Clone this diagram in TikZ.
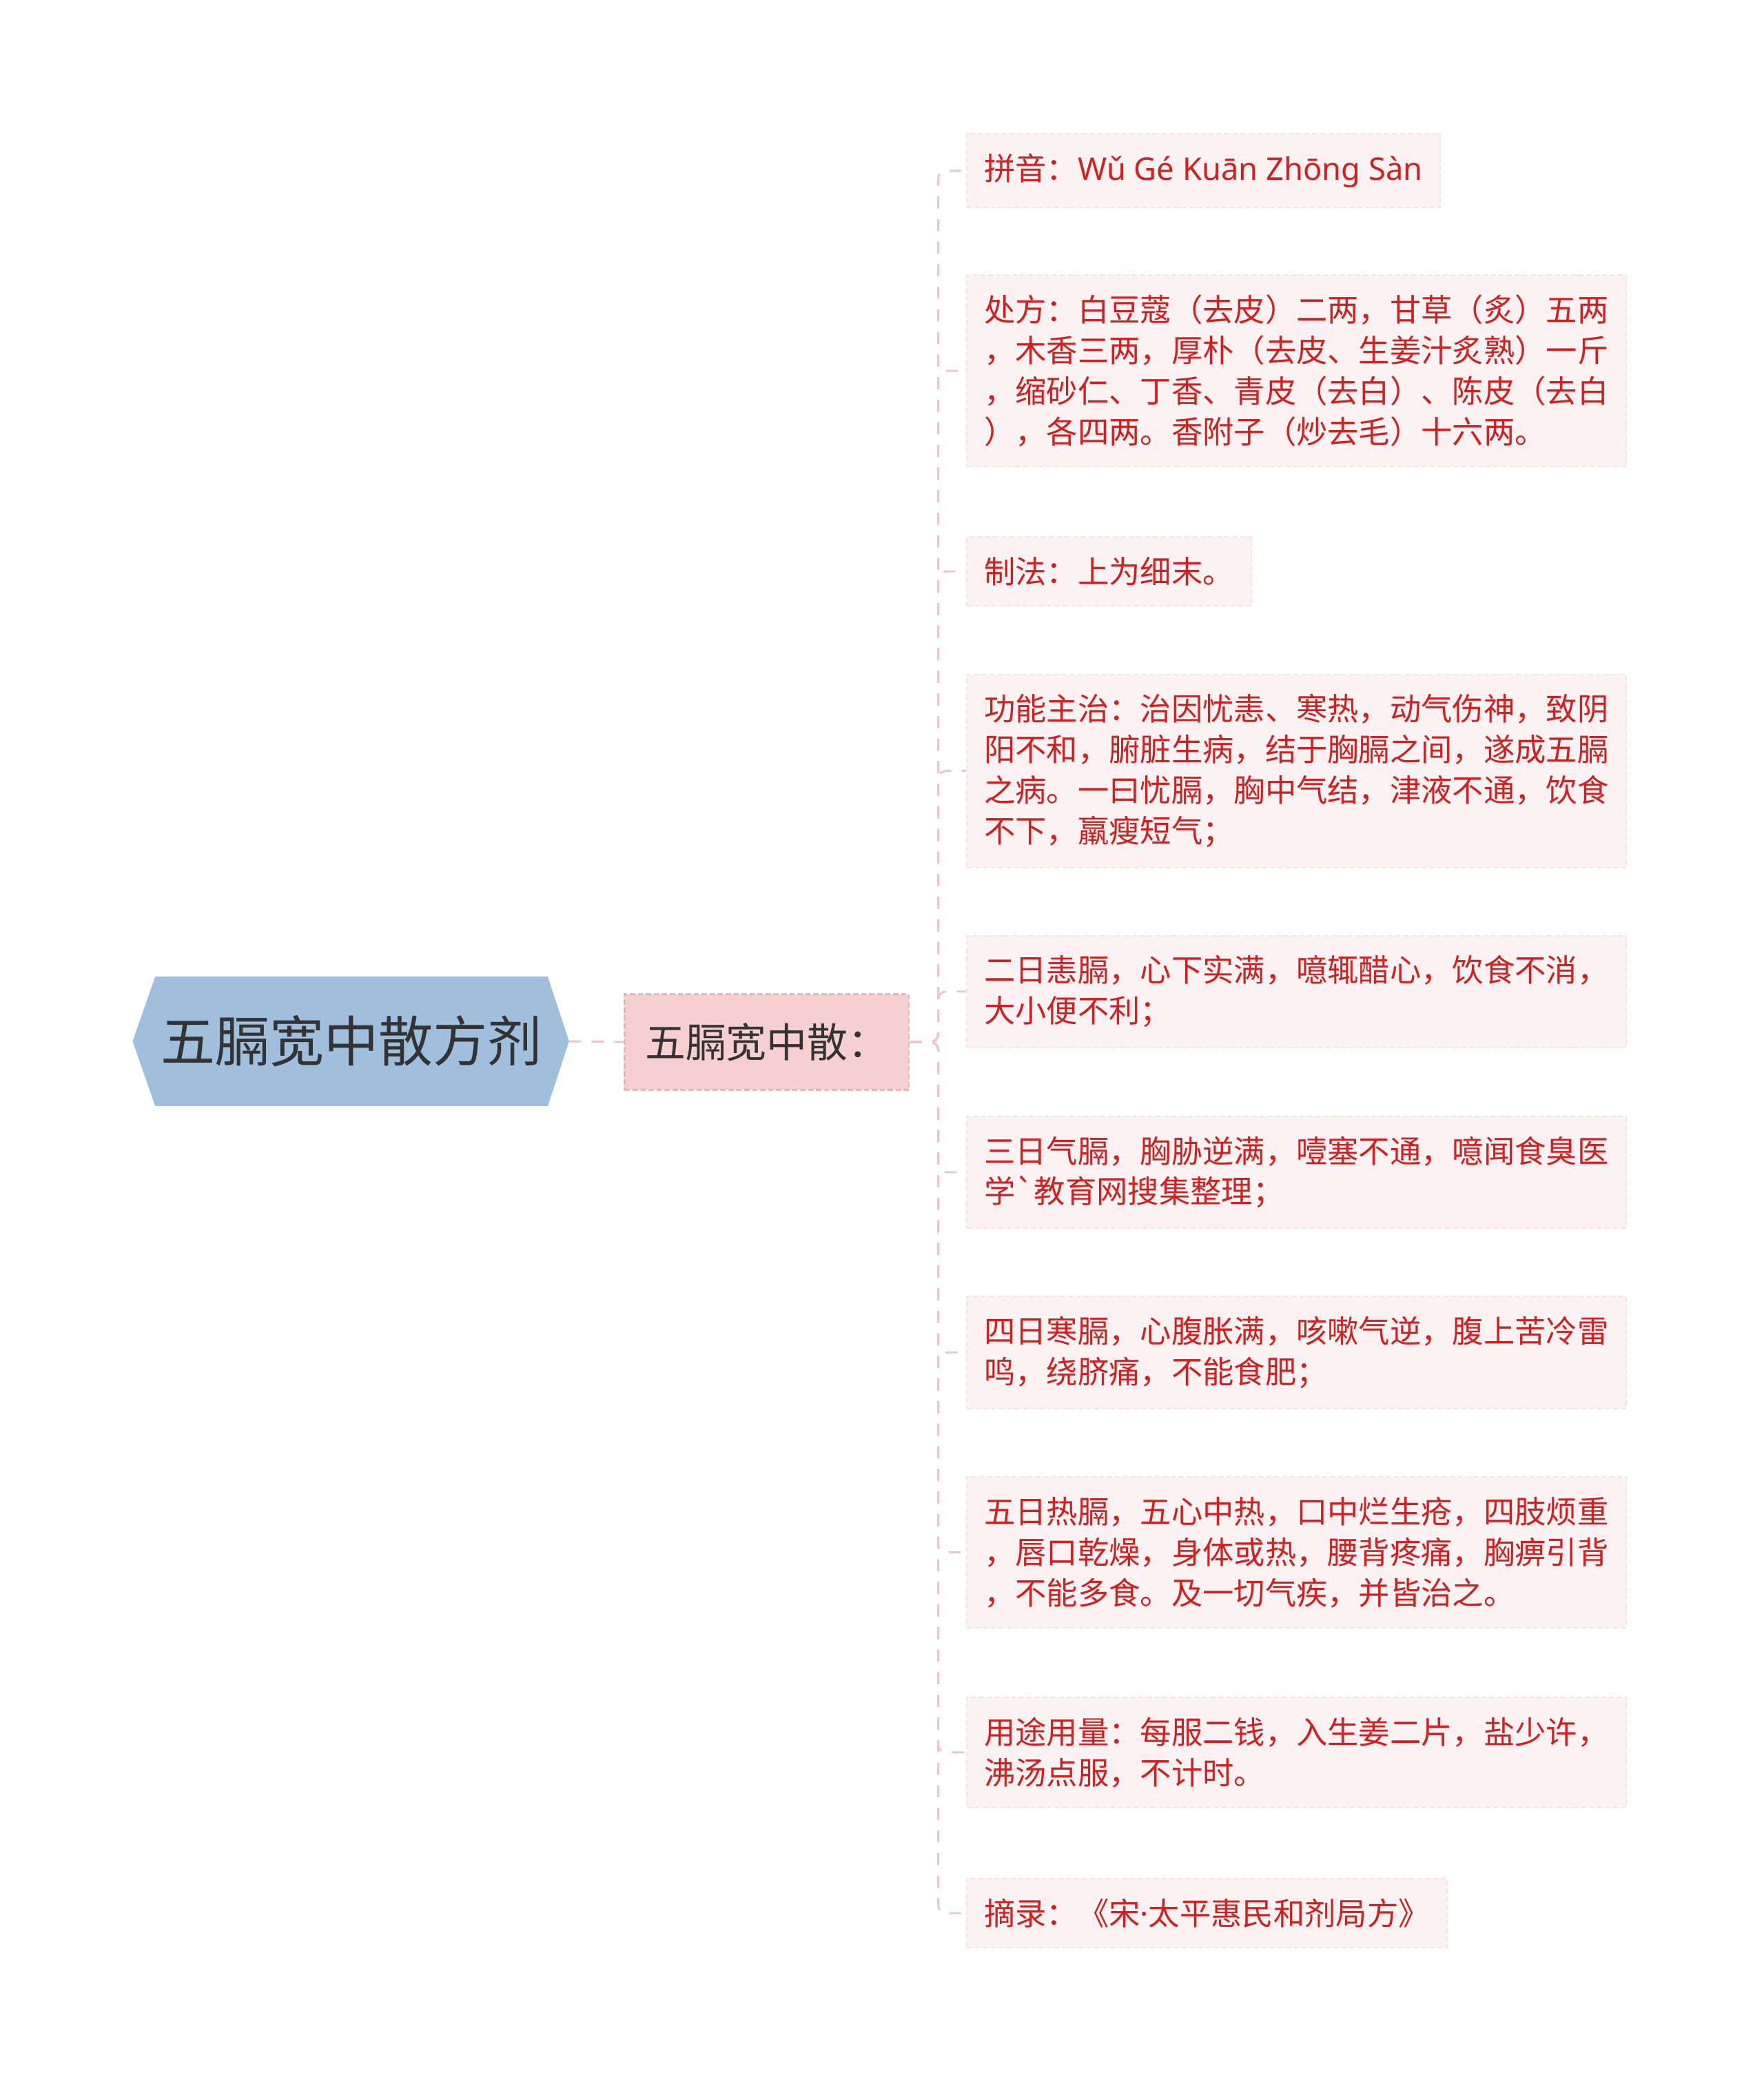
\documentclass[tikz,border=0pt]{standalone}
\usepackage{fontspec}
\setmainfont{Noto Sans CJK SC}[Ligatures=TeXOff]
\newfontfamily\latinfont{Noto Sans}[Ligatures=TeXOff]
\usepackage{xcolor}
\usetikzlibrary{positioning,backgrounds,calc}

\definecolor{rootblue}{HTML}{A0BFDC}
\definecolor{darktext}{HTML}{333333}
\definecolor{midpink}{HTML}{F6CFD1}
\definecolor{midedge}{HTML}{EBB5B8}
\definecolor{leafpink}{HTML}{FCF2F3}
\definecolor{leafedge}{HTML}{F6E3E5}
\definecolor{leafred}{HTML}{D0201F}
\definecolor{linkpink}{HTML}{EFC6C8}

\tikzset{
  rootnode/.style={inner sep=0pt, minimum width=295pt, minimum height=97pt,
    text=darktext, font=\fontsize{41}{48}\selectfont},
  midnode/.style={fill=midpink, draw=midedge, dash pattern=on 4pt off 2pt, line width=1.2pt,
    minimum width=214pt, minimum height=72pt, inner sep=0pt,
    text=darktext, font=\fontsize{30.5}{36}\selectfont},
  leaf/.style={anchor=west, fill=leafpink, draw=leafedge, dash pattern=on 4pt off 2pt, line width=1pt,
    inner xsep=13pt, inner ysep=15pt, align=left,
    text=leafred, font=\fontsize{23.5}{30.5}\selectfont},
  link/.style={draw=linkpink, line width=1.5pt, dash pattern=on 9pt off 8pt, rounded corners=6pt}
}

\begin{document}
\begin{tikzpicture}[x=1pt, y=-1pt]
  \useasboundingbox (0,0) rectangle (1327,1568);

  % Root
  \node[rootnode] (root) at (264.5,783.5) {五膈宽中散方剂};
  \begin{scope}[on background layer]
    \fill[rootblue] (root.north west) -- (root.north east) -- ([xshift=16pt]root.east)
      -- (root.south east) -- (root.south west) -- ([xshift=-17pt]root.west) -- cycle;
  \end{scope}
  \coordinate (tip) at ([xshift=16pt]root.east);

  % Middle
  \node[midnode] (mid) at (577,784) {五膈宽中散：};
  \coordinate (trunk) at (706,784);

  % Leaves
  \node[leaf] (pinyin) at (727,128.5) {拼音：{\latinfont Wǔ Gé Kuān Zhōng Sàn}};
  \node[leaf] (recipe) at (727,279) {处方：白豆蔻（去皮）二两，甘草（炙）五两\\，木香三两，厚朴（去皮、生姜汁炙熟）一斤\\，缩砂仁、丁香、青皮（去白）、陈皮（去白\\），各四两。香附子（炒去毛）十六两。};
  \node[leaf] (method) at (727,430) {制法：上为细末。};
  \node[leaf] (usage) at (727,580) {功能主治：治因忧恚、寒热，动气伤神，致阴\\阳不和，腑脏生病，结于胸膈之间，遂成五膈\\之病。一曰忧膈，胸中气结，津液不通，饮食\\不下，羸瘦短气；};
  \node[leaf] (second) at (727,746) {二日恚膈，心下实满，噫辄醋心，饮食不消，\\大小便不利；};
  \node[leaf] (third) at (727,882) {三日气膈，胸胁逆满，噎塞不通，噫闻食臭医\\学`教育网搜集整理；};
  \node[leaf] (fourth) at (727,1017.5) {四日寒膈，心腹胀满，咳嗽气逆，腹上苦冷雷\\鸣，绕脐痛，不能食肥；};
  \node[leaf] (fifth) at (727,1168) {五日热膈，五心中热，口中烂生疮，四肢烦重\\，唇口乾燥，身体或热，腰背疼痛，胸痹引背\\，不能多食。及一切气疾，并皆治之。};
  \node[leaf] (dosage) at (727,1318.5) {用途用量：每服二钱，入生姜二片，盐少许，\\沸汤点服，不计时。};
  \node[leaf] (source) at (727,1439.5) {摘录：《宋{\latinfont ·}太平惠民和剂局方》};

  % Connectors
  \draw[link] (tip) -- (mid.west);
  \draw[link] (mid.east) -- (trunk) |- (pinyin.west);
  \draw[link] (mid.east) -- (trunk) |- (recipe.west);
  \draw[link] (mid.east) -- (trunk) |- (method.west);
  \draw[link] (mid.east) -- (trunk) |- (usage.west);
  \draw[link] (mid.east) -- (trunk) |- (second.west);
  \draw[link] (mid.east) -- (trunk) |- (third.west);
  \draw[link] (mid.east) -- (trunk) |- (fourth.west);
  \draw[link] (mid.east) -- (trunk) |- (fifth.west);
  \draw[link] (mid.east) -- (trunk) |- (dosage.west);
  \draw[link] (mid.east) -- (trunk) |- (source.west);
\end{tikzpicture}
\end{document}
